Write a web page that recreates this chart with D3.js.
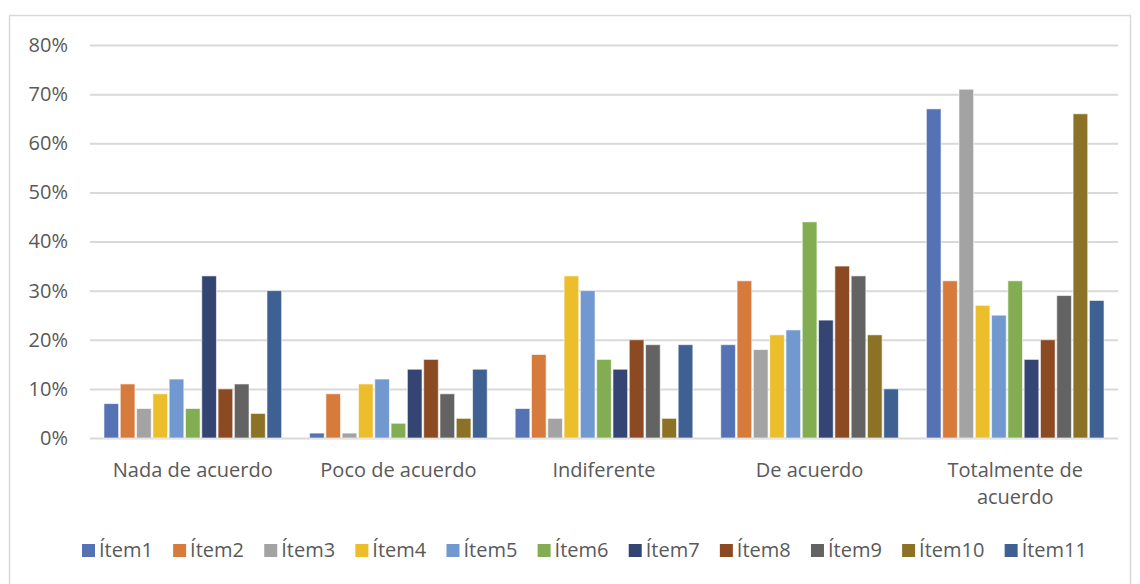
<!DOCTYPE html>
<html><head><meta charset="utf-8">
<script src="https://cdn.jsdelivr.net/npm/d3@7"></script>
<style>body{margin:0;background:#fff;} text{font-family:"Open Sans",sans-serif;}</style>
</head><body>
<svg id="c" width="1140" height="584"></svg>
<script>
const categories = ["Nada de acuerdo","Poco de acuerdo","Indiferente","De acuerdo","Totalmente de acuerdo"];
const series = ["Ítem1","Ítem2","Ítem3","Ítem4","Ítem5","Ítem6","Ítem7","Ítem8","Ítem9","Ítem10","Ítem11"];
const item1  = [7, 1, 6, 19, 67];
const item2  = [11, 9, 17, 32, 32];
const item3  = [6, 1, 4, 18, 71];
const item4  = [9, 11, 33, 21, 27];
const item5  = [12, 12, 30, 22, 25];
const item6  = [6, 3, 16, 44, 32];
const item7  = [33, 14, 14, 24, 16];
const item8  = [10, 16, 20, 35, 20];
const item9  = [11, 9, 19, 33, 29];
const item10 = [5, 4, 4, 21, 66];
const item11 = [30, 14, 19, 10, 28];
const yTicks = [0,10,20,30,40,50,60,70,80];
const colors = ["#5572B5","#D67B3C","#A3A3A3","#EDBE2C","#7199D0","#82AD52","#344574","#8B4A22","#636363","#8B7226","#3E6093"];

const values = [item1,item2,item3,item4,item5,item6,item7,item8,item9,item10,item11];
const svg = d3.select("#c");
svg.append("rect").attr("x",9.5).attr("y",15.5).attr("width",1121).attr("height",600)
  .attr("fill","#fff").attr("stroke","#d9d9d9").attr("stroke-width",1.5);

const pL=90, pR=1118, pT=45, pB=438;
const y = d3.scaleLinear().domain([0,80]).range([pB,pT]);
const x0 = d3.scaleBand().domain(categories).range([pL,pR]).paddingInner(0.12).paddingOuter(0.06);
const x1 = d3.scaleBand().domain(series).range([0,x0.bandwidth()]).padding(0.1);

const yAxis = d3.axisLeft(y).tickValues(yTicks).tickSize(-(pR-pL)).tickFormat(d=>d+"%");
const gy = svg.append("g").attr("transform",`translate(${pL},0)`).call(yAxis);
gy.select(".domain").remove();
gy.selectAll("line").attr("stroke","#d9d9d9").attr("stroke-width",2);
gy.selectAll("text").attr("x",-22).attr("fill","#595959").style("font-size","20px");

const groups = svg.append("g").selectAll("g").data(categories).join("g")
  .attr("transform",d=>`translate(${x0(d)},0)`);
groups.selectAll("rect").data((c,ci)=>series.map((s,si)=>({s,si,v:values[si][ci]}))).join("rect")
  .attr("x",d=>x1(d.s)).attr("width",x1.bandwidth())
  .attr("y",d=>y(d.v)).attr("height",d=>pB-y(d.v))
  .attr("fill",d=>colors[d.si]).attr("stroke","#ffffff").attr("stroke-opacity",0.6).attr("stroke-width",1);

// category labels
const xa = svg.append("g");
categories.forEach(c=>{
  const cx = x0(c)+x0.bandwidth()/2;
  const lines = c==="Totalmente de acuerdo" ? ["Totalmente de","acuerdo"] : [c];
  lines.forEach((l,i)=>{
    xa.append("text").attr("x",cx).attr("y",477+i*27).attr("text-anchor","middle")
      .attr("fill","#595959").style("font-size","20px").text(l);
  });
});

// legend
const lg = svg.append("g");
let items = [];
series.forEach((s,i)=>{
  const g = lg.append("g");
  g.append("rect").attr("x",0).attr("y",-13).attr("width",13).attr("height",13).attr("fill",colors[i]);
  const t = g.append("text").attr("x",17).attr("y",0).attr("fill","#595959").style("font-size","20px").text(s);
  const w = 17 + t.node().getComputedTextLength();
  items.push({g,w});
});
let sum = d3.sum(items, d=>d.w);
const gap = (1087 - 82 - sum) / (items.length-1);
let lx = 82;
items.forEach(it=>{ it.g.attr("transform",`translate(${lx},557)`); lx += it.w + gap; });
</script>
</body></html>
